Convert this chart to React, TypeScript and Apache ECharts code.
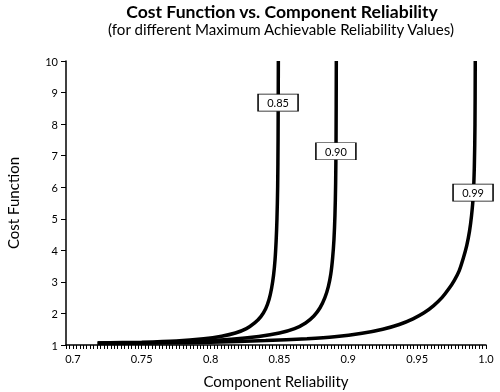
import React, { useEffect, useRef } from "react";
import * as echarts from "echarts";

const xLabels = [0.7, 0.75, 0.8, 0.85, 0.9, 0.95, 1.0];
const yMin = 1;
const yMax = 10;

// Max achievable reliability 0.85
const r085 = [0.718, 0.75, 0.775, 0.795, 0.808, 0.818, 0.826, 0.832, 0.8365, 0.84, 0.8425, 0.8443, 0.8457, 0.8468, 0.8476, 0.8482, 0.8487, 0.849, 0.8492];
const c085 = [1.06, 1.09, 1.13, 1.2, 1.28, 1.38, 1.52, 1.7, 1.9, 2.15, 2.45, 2.8, 3.2, 3.7, 4.3, 5.0, 6.0, 7.5, 10];

// Max achievable reliability 0.90
const r090 = [0.718, 0.76, 0.79, 0.815, 0.835, 0.85, 0.861, 0.869, 0.875, 0.8795, 0.883, 0.8855, 0.8873, 0.8886, 0.8896, 0.8903, 0.8908, 0.8911, 0.8913];
const c090 = [1.06, 1.08, 1.12, 1.18, 1.27, 1.38, 1.52, 1.7, 1.92, 2.18, 2.5, 2.85, 3.25, 3.75, 4.35, 5.1, 6.1, 7.5, 10];

// Max achievable reliability 0.99
const r099 = [0.718, 0.76, 0.8, 0.84, 0.87, 0.89, 0.91, 0.925, 0.937, 0.947, 0.955, 0.962, 0.968, 0.973, 0.977, 0.9805, 0.9835, 0.986, 0.988, 0.9895, 0.9907, 0.9915, 0.992, 0.9922];
const c099 = [1.05, 1.06, 1.09, 1.14, 1.2, 1.26, 1.37, 1.5, 1.65, 1.83, 2.02, 2.25, 2.5, 2.78, 3.05, 3.35, 3.75, 4.15, 4.6, 5.1, 5.7, 6.6, 8, 10];

const seriesNames = ["0.85", "0.90", "0.99"];
const labelPos: [number, number][] = [
  [0.849, 8.68],
  [0.891, 7.14],
  [0.9906, 5.83],
];

const FONT = "Lato";

export default function App() {
  const ref = useRef<HTMLDivElement>(null);
  useEffect(() => {
    if (!ref.current) return;
    const chart = echarts.init(ref.current, null, { renderer: "svg" });
    const minorTicks: number[] = [];
    for (let i = 0; i <= 122; i++) minorTicks.push(+(0.695 + i * 0.0025).toFixed(4));
    const sets = [
      [r085, c085],
      [r090, c090],
      [r099, c099],
    ];
    chart.setOption({
      animation: false,
      textStyle: { fontFamily: FONT },
      title: [
        {
          text: "Cost Function vs. Component Reliability",
          left: 277,
          top: -3,
          textAlign: "center",
          textStyle: { fontFamily: FONT, fontSize: 17.6, lineHeight: 18, fontWeight: "bold", color: "#000" },
        },
        {
          text: "(for different Maximum Achievable Reliability Values)",
          left: 276,
          top: 16,
          textAlign: "center",
          textStyle: { fontFamily: FONT, fontSize: 15.1, lineHeight: 16, fontWeight: "normal", color: "#000" },
        },
      ],
      grid: { left: 66, right: 14, top: 61, bottom: 47, containLabel: false, outerBoundsMode: "none" },
      xAxis: {
        type: "value",
        min: 0.695,
        max: 1.0,
        name: "Component Reliability",
        nameLocation: "middle",
        nameGap: 28,
        nameTextStyle: { fontFamily: FONT, fontSize: 15, color: "#000" },
        axisLine: { show: true, onZero: false, lineStyle: { color: "#000", width: 1.5 } },
        axisTick: { show: true, inside: false, length: 4, customValues: minorTicks, lineStyle: { color: "#000", width: 1 } },
        axisLabel: {
          customValues: xLabels,
          fontFamily: FONT,
          fontSize: 11,
          color: "#000",
          margin: 8,
          formatter: (v: number) => (v === 1 ? "1.0" : String(+v.toFixed(2))),
        },
        splitLine: { show: false },
      },
      yAxis: {
        type: "value",
        min: yMin,
        max: yMax,
        interval: 1,
        name: "Cost Function",
        nameLocation: "middle",
        nameGap: 46,
        nameTextStyle: { fontFamily: FONT, fontSize: 15, color: "#000" },
        axisLine: { show: true, lineStyle: { color: "#000", width: 1.5 } },
        axisTick: { show: true, inside: false, length: 5, lineStyle: { color: "#000", width: 1 } },
        axisLabel: { fontFamily: FONT, fontSize: 11, color: "#000", margin: 8 },
        splitLine: { show: false },
      },
      series: sets.map((s, i) => ({
        type: "line",
        name: seriesNames[i],
        data: s[0].map((r, j) => [r, s[1][j]]),
        showSymbol: false,
        smooth: 0.3,
        lineStyle: { color: "#000", width: 3.5 },
        z: 2,
        markPoint: {
          symbol: "rect",
          symbolSize: [40, 17],
          itemStyle: { color: "#fff", borderColor: "#000", borderWidth: 1 },
          label: { show: true, color: "#000", fontSize: 11, fontFamily: FONT, formatter: seriesNames[i] },
          data: [{ coord: labelPos[i] }],
          z: 5,
        },
      })),
    });
    return () => chart.dispose();
  }, []);
  return <div ref={ref} style={{ position: "fixed", left: 0, top: 0, width: 500, height: 392 }} />;
}
